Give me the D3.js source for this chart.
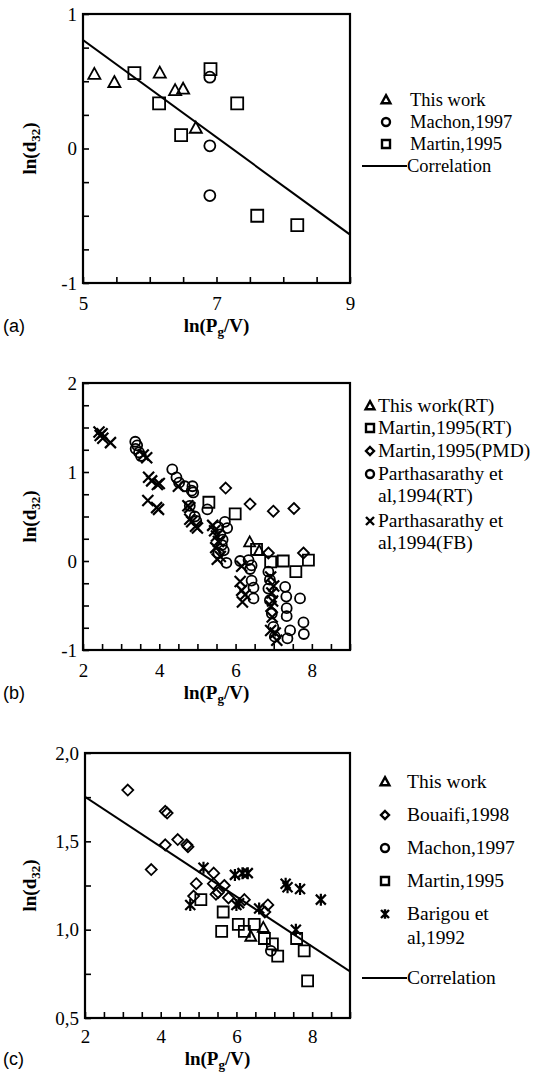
<!DOCTYPE html>
<html><head><meta charset="utf-8">
<script src="https://cdn.jsdelivr.net/npm/d3@7"></script>
<style>body{margin:0;background:#fff}svg{display:block}</style>
</head><body><svg id="c" width="541" height="1082"></svg>
<script>
// ---------- Panel (a) data ----------
const aThisWork = [[5.17,0.55],[5.47,0.49],[6.15,0.56],[6.38,0.43],[6.50,0.44],[6.69,0.15]];
const aMachon = [[6.90,0.53],[6.90,0.02],[6.90,-0.35]];
const aMartin = [[5.77,0.56],[6.91,0.59],[6.14,0.335],[6.47,0.10],[7.31,0.335],[7.61,-0.50],[8.21,-0.57]];
const aCorrelation = [[5,0.806],[9,-0.64]];
const aXTickLabels = [5,7,9];
const aYTickLabels = [-1,0,1];

// ---------- Panel (b) data ----------
const bThisWork = [[6.37,0.21],[6.62,0.11]];
const bMartinRT = [[5.30,0.66],[5.99,0.53],[6.55,0.13],[6.92,-0.01],[7.25,0.00],[7.58,-0.12],[7.91,0.01]];
const bMartinPMD = [[5.74,0.82],[6.38,0.64],[6.99,0.56],[7.53,0.59],[7.78,0.09],[6.86,0.09]];
const bParthRT = [[3.37,1.34],[3.42,1.30],[3.38,1.26],[3.47,1.22],[3.52,1.18],
  [4.34,1.03],[4.45,0.94],[4.52,0.88],[4.67,0.84],[4.87,0.84],[4.85,0.79],[4.89,0.77],
  [4.80,0.62],[4.93,0.50],[4.97,0.45],[5.26,0.58],
  [5.55,0.38],[5.72,0.44],[5.78,0.37],[5.60,0.30],[5.66,0.24],[5.64,0.18],[5.69,0.12],[5.55,0.09],[5.76,-0.02],
  [6.12,0.00],[6.34,0.01],[6.42,-0.05],[6.38,-0.09],[6.42,-0.22],[6.47,-0.30],[6.47,-0.42],
  [6.86,-0.12],[6.90,-0.21],[6.86,-0.31],[6.90,-0.44],[6.95,-0.59],[6.99,-0.74],[7.03,-0.85],
  [7.30,-0.29],[7.33,-0.40],[7.34,-0.53],[7.34,-0.62],[7.43,-0.78],[7.36,-0.87],[7.69,-0.42],[7.78,-0.69],[7.79,-0.82]];
const bParthFB = [[2.42,1.45],[2.45,1.41],[2.52,1.38],[2.50,1.43],[2.72,1.33],
  [3.58,1.19],[3.67,1.16],
  [3.72,0.94],[3.80,0.90],[3.95,0.86],[4.00,0.87],
  [3.70,0.68],[3.93,0.60],[3.98,0.58],
  [4.50,0.84],[4.75,0.62],[4.80,0.60],[4.80,0.47],[4.85,0.44],[4.95,0.39],[5.00,0.37],
  [5.40,0.40],[5.45,0.34],[5.50,0.28],[5.55,0.22],[5.48,0.15],[5.52,0.02],[5.60,0.05],
  [6.16,-0.06],[6.12,-0.23],[6.16,-0.33],[6.18,-0.46],[6.25,-0.38],
  [6.92,-0.18],[6.95,-0.36],[6.93,-0.51],[6.96,-0.63],[6.92,-0.78],[7.04,-0.81],[7.08,-0.89],[6.97,-0.45],[7.00,-0.28]];
const bXTickLabels = [2,4,6,8];
const bYTickLabels = [-1,0,1,2];

// ---------- Panel (c) data ----------
const cThisWork = [[6.38,0.96],[6.71,1.01]];
const cBouaifi = [[3.13,1.79],[3.75,1.34],[4.12,1.67],[4.17,1.66],[4.12,1.48],[4.45,1.51],[4.69,1.48],[4.72,1.47],
  [4.94,1.26],[4.87,1.19],[5.40,1.32],[5.39,1.26],[5.46,1.20],[5.68,1.25],[5.52,1.21],[5.79,1.18],[6.21,1.17],[6.83,1.14],[6.75,1.10]];
const cMachon = [[6.91,0.88]];
const cMartin = [[5.06,1.17],[5.65,1.10],[5.61,0.99],[6.05,1.03],[6.21,0.99],[6.47,1.03],[6.74,0.95],[6.95,0.92],[7.09,0.85],[7.59,0.95],[7.79,0.88],[7.88,0.71]];
const cBarigou = [[4.78,1.14],[5.13,1.35],[5.96,1.31],[6.16,1.32],[6.30,1.32],[6.07,1.15],[6.00,1.14],[6.60,1.12],[7.30,1.26],[7.35,1.24],[7.68,1.23],[8.23,1.17],[7.57,1.00]];
const cCorrelation = [[2,1.752],[9,0.763]];
const cXTickLabels = [2,4,6,8];
const cYTickLabels = [0.5,1.0,1.5,2.0];

// ---------- drawing ----------
const svg = d3.select("#c");
const SERIF = "'Liberation Serif','Times New Roman',Times,serif";
const SANS = "'Liberation Sans',Arial,sans-serif";

function markerPath(type, s){
  switch(type){
    case "square": return `M${-s},${-s}H${s}V${s}H${-s}Z`;
    case "triangle": return `M0,${-s*1.2}L${s*1.1},${s*0.8}L${-s*1.1},${s*0.8}Z`;
    case "diamond": return `M0,${-s}L${s},0L0,${s}L${-s},0Z`;
    case "circle": return `M${-s},0A${s},${s} 0 1,0 ${s},0A${s},${s} 0 1,0 ${-s},0Z`;
    case "cross": return `M${-s},${-s}L${s},${s}M${-s},${s}L${s},${-s}`;
    case "star": return `M${-s},${-s}L${s},${s}M${-s},${s}L${s},${-s}M0,${-s*1.2}L0,${s*1.2}`;
  }
}

function drawPanel(p){
  const g = svg.append("g");
  const x = d3.scaleLinear().domain(p.xDomain).range([p.left, p.right]);
  const y = d3.scaleLinear().domain(p.yDomain).range([p.bottom, p.top]);

  const xt = d3.range(p.xDomain[0], p.xDomain[1] + 1e-9, p.xStep);
  const yt = d3.range(p.yDomain[0], p.yDomain[1] + 1e-9, p.yStep);
  g.append("g").attr("transform", `translate(0,${p.bottom})`)
    .call(d3.axisBottom(x).tickValues(xt).tickSizeInner(-6).tickSizeOuter(0).tickFormat(""))
    .call(s => s.select(".domain").remove())
    .call(s => s.selectAll("line").attr("stroke","#000").attr("stroke-width",1.6));
  g.append("g").attr("transform", `translate(${p.left},0)`)
    .call(d3.axisLeft(y).tickValues(yt).tickSizeInner(-6).tickSizeOuter(0).tickFormat(""))
    .call(s => s.select(".domain").remove())
    .call(s => s.selectAll("line").attr("stroke","#000").attr("stroke-width",1.6));

  g.append("g").attr("transform", `translate(0,${p.bottom})`)
    .call(d3.axisBottom(x).tickValues(p.xLabels).tickSize(0).tickPadding(p.xPad).tickFormat(p.xFmt))
    .call(s => s.select(".domain").remove())
    .call(s => s.selectAll("text").attr("font-family", SERIF).attr("font-size", 19).attr("fill","#000"));
  g.append("g").attr("transform", `translate(${p.left},0)`)
    .call(d3.axisLeft(y).tickValues(p.yLabels).tickSize(0).tickPadding(6).tickFormat(p.yFmt))
    .call(s => s.select(".domain").remove())
    .call(s => s.selectAll("text").attr("font-family", SERIF).attr("font-size", 19).attr("fill","#000"));

  const cid = "clip" + p.id;
  svg.append("clipPath").attr("id", cid).append("rect")
    .attr("x", p.left).attr("y", p.top).attr("width", p.right - p.left).attr("height", p.bottom - p.top);
  const plot = g.append("g").attr("clip-path", `url(#${cid})`);

  if (p.line){
    plot.append("path").datum(p.line)
      .attr("d", d3.line().x(d => x(d[0])).y(d => y(d[1])))
      .attr("fill","none").attr("stroke","#000").attr("stroke-width",2);
  }
  p.series.forEach(s => {
    plot.selectAll(null).data(s.data).enter().append("path")
      .attr("transform", d => `translate(${x(d[0])},${y(d[1])})`)
      .attr("d", markerPath(s.type, s.size))
      .attr("fill","none").attr("stroke","#000")
      .attr("stroke-width", s.type === "cross" || s.type === "star" ? 2.2 : 1.8);
  });

  g.append("rect").attr("x", p.left).attr("y", p.top)
    .attr("width", p.right - p.left).attr("height", p.bottom - p.top)
    .attr("fill","none").attr("stroke","#000").attr("stroke-width",2.2);

  const xt2 = g.append("text").attr("x", (p.left + p.right)/2).attr("y", p.bottom + p.titleDy)
    .attr("text-anchor","middle").attr("font-family", SERIF).attr("font-size", 19).attr("font-weight","bold");
  xt2.append("tspan").text("ln(P");
  xt2.append("tspan").attr("font-size", 13).attr("dy", 4).text("g");
  xt2.append("tspan").attr("dy", -4).text("/V)");

  const yt2 = g.append("text").attr("transform", `translate(${p.yTitleX},${(p.top + p.bottom)/2}) rotate(-90)`)
    .attr("text-anchor","middle").attr("font-family", SERIF).attr("font-size", 19).attr("font-weight","bold");
  yt2.append("tspan").text("ln(d");
  yt2.append("tspan").attr("font-size", 13).attr("dy", 4).text("32");
  yt2.append("tspan").attr("dy", -4).text(")");

  g.append("text").attr("x", 3).attr("y", p.bottom + p.titleDy)
    .attr("font-family", SANS).attr("font-size", 18).text(p.tag);

  const lg = g.append("g");
  p.legend.forEach(e => {
    if (e.type === "line"){
      lg.append("line").attr("x1", e.lx1).attr("x2", e.lx2).attr("y1", e.y).attr("y2", e.y)
        .attr("stroke","#000").attr("stroke-width",2);
    } else {
      lg.append("path").attr("transform", `translate(${p.legMarkX},${e.y})`)
        .attr("d", markerPath(e.type, 4)).attr("fill","none").attr("stroke","#000")
        .attr("stroke-width", 2.4);
    }
    e.lines.forEach((t, i) => {
      lg.append("text").attr("x", e.type === "line" ? e.lx2 : p.legTextX).attr("y", e.y + 6 + i * p.legLine)
        .attr("font-family", SERIF).attr("font-size", p.legFs).text(t);
    });
  });
}

const fmtInt = d => String(d);
const fmtComma = d => d3.format(".1f")(d).replace(".", ",");

drawPanel({id:"a", left:83, right:350, top:14, bottom:283, xDomain:[5,9], yDomain:[-1,1], xStep:0.5, yStep:0.25,
  xLabels:aXTickLabels, yLabels:aYTickLabels, xFmt:fmtInt, yFmt:fmtInt, xPad:14, titleDy:49, yTitleX:36, tag:"(a)",
  line:aCorrelation,
  series:[{data:aThisWork,type:"triangle",size:5.5},{data:aMachon,type:"circle",size:5.5},{data:aMartin,type:"square",size:6}],
  legMarkX:386, legTextX:410, legLine:20, legFs:18.5,
  legend:[{type:"triangle",y:100,lines:["This work"]},{type:"circle",y:122,lines:["Machon,1997"]},
          {type:"square",y:144,lines:["Martin,1995"]},{type:"line",y:166,lx1:362,lx2:407,lines:["Correlation"]}]});

drawPanel({id:"b", left:83, right:350, top:383, bottom:650, xDomain:[2,9], yDomain:[-1,2], xStep:0.5, yStep:0.25,
  xLabels:bXTickLabels, yLabels:bYTickLabels, xFmt:fmtInt, yFmt:fmtInt, xPad:14, titleDy:49, yTitleX:36, tag:"(b)",
  line:null,
  series:[{data:bParthRT,type:"circle",size:5},{data:bParthFB,type:"cross",size:5.5},{data:bMartinRT,type:"square",size:5.5},
          {data:bMartinPMD,type:"diamond",size:5.5},{data:bThisWork,type:"triangle",size:5}],
  legMarkX:370, legTextX:378, legLine:22, legFs:19.5,
  legend:[{type:"triangle",y:406,lines:["This work(RT)"]},{type:"square",y:428,lines:["Martin,1995(RT)"]},
          {type:"diamond",y:451,lines:["Martin,1995(PMD)"]},{type:"circle",y:474,lines:["Parthasarathy et","al,1994(RT)"]},
          {type:"cross",y:521,lines:["Parthasarathy et","al,1994(FB)"]}]});

drawPanel({id:"c", left:85, right:350, top:753, bottom:1018, xDomain:[2,9], yDomain:[0.5,2], xStep:0.5, yStep:0.25,
  xLabels:cXTickLabels, yLabels:cYTickLabels, xFmt:fmtInt, yFmt:fmtComma, xPad:12, titleDy:47, yTitleX:36, tag:"(c)",
  line:cCorrelation,
  series:[{data:cBouaifi,type:"diamond",size:5.5},{data:cMartin,type:"square",size:5.5},{data:cBarigou,type:"star",size:5},
          {data:cThisWork,type:"triangle",size:5},{data:cMachon,type:"circle",size:5}],
  legMarkX:385, legTextX:407, legLine:24, legFs:19.5,
  legend:[{type:"triangle",y:782,lines:["This work"]},{type:"diamond",y:815,lines:["Bouaifi,1998"]},
          {type:"circle",y:848,lines:["Machon,1997"]},{type:"square",y:881,lines:["Martin,1995"]},
          {type:"star",y:914,lines:["Barigou et","al,1992"]},{type:"line",y:978,lx1:362,lx2:407,lines:["Correlation"]}]});
</script></body></html>
